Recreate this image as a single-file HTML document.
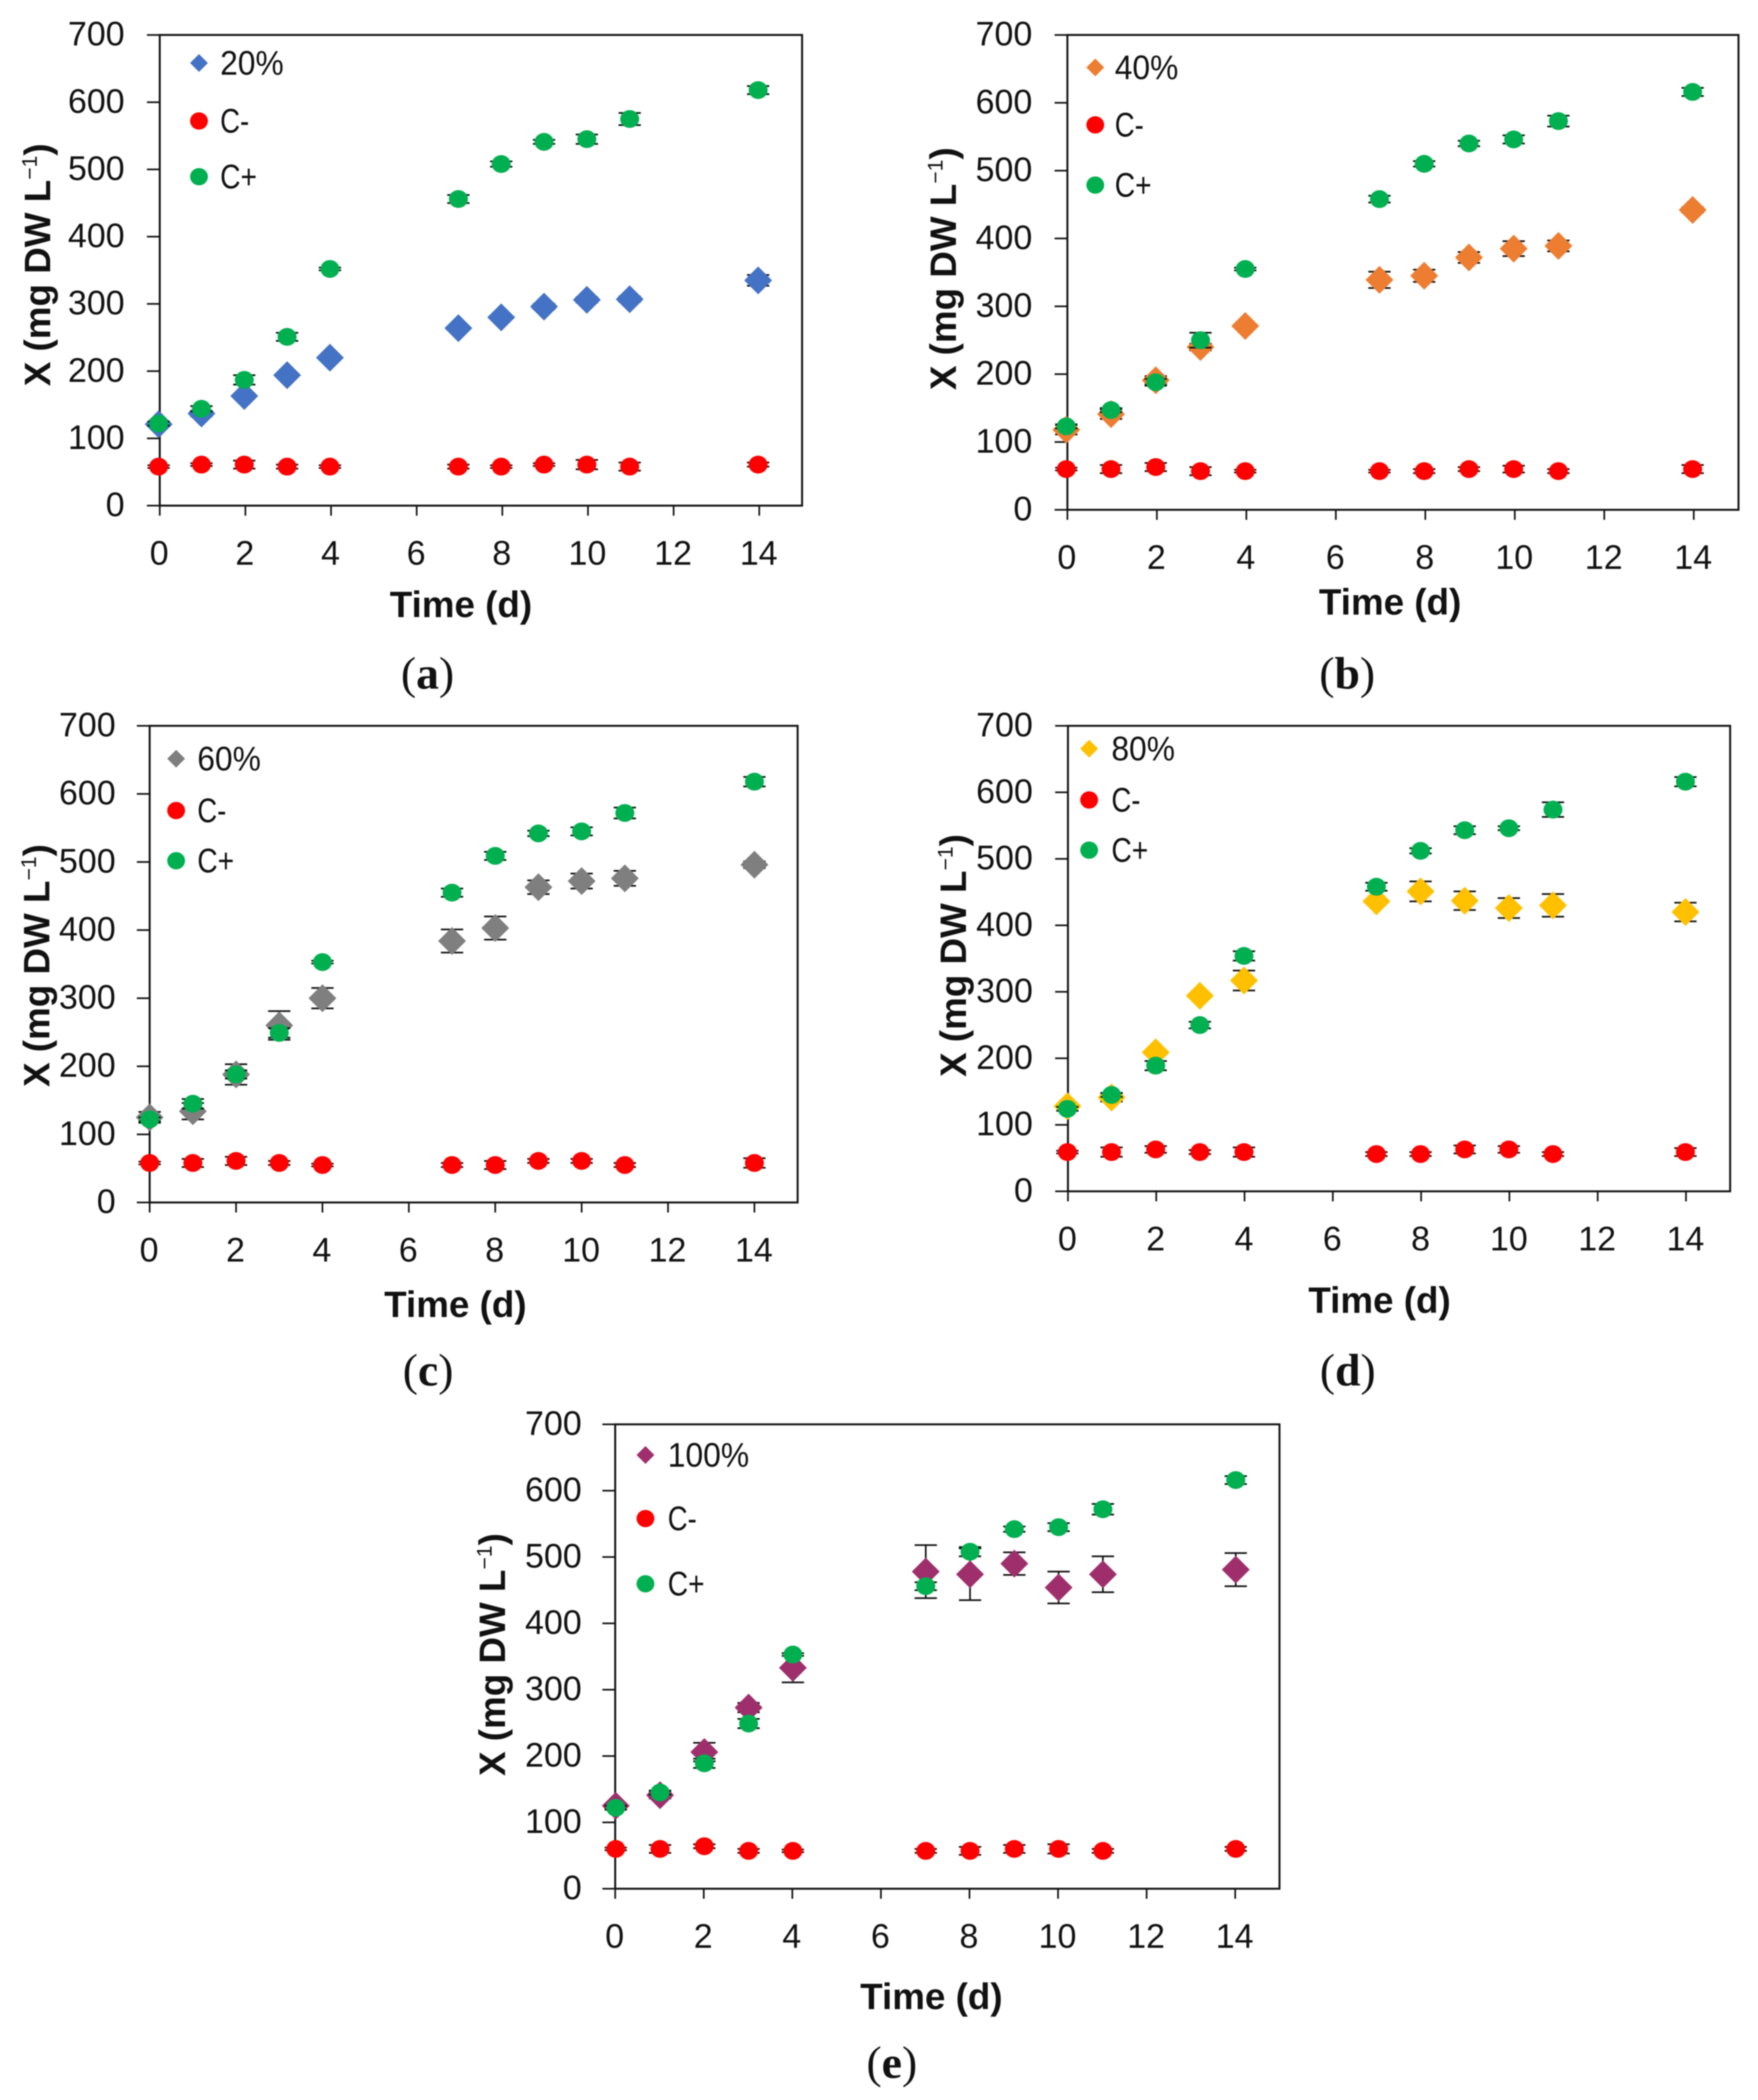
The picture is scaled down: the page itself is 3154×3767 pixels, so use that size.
<!DOCTYPE html>
<html lang="en">
<head>
<meta charset="utf-8">
<title>Biomass concentration over time</title>
<style>
html,body{margin:0;padding:0;background:#fff;}
svg{display:block;filter:blur(1px);}
text{font-family:"Liberation Sans",sans-serif;fill:#111;}
</style>
</head>
<body>
<svg id="figure" xmlns="http://www.w3.org/2000/svg" width="3154" height="3767" viewBox="0 0 3154 3767"></svg>
<script>
var days = [0, 1, 2, 3, 4, 7, 8, 9, 10, 11, 14];
var xTickLabels = [0, 2, 4, 6, 8, 10, 12, 14];
var yTickLabels = [0, 100, 200, 300, 400, 500, 600, 700];

var a20Values = [121, 137, 163, 194, 220, 264, 280, 296, 306, 307, 335];
var a20Errors = [3, 4, 3, 3, 3, 3, 3, 4, 4, 4, 8];
var aNegValues = [58, 61, 61, 58, 58, 58, 58, 61, 61, 58, 61];
var aNegErrors = [2, 2, 6, 3, 2, 3, 2, 2, 7, 6, 3];
var aPosValues = [122, 144, 187, 251, 352, 456, 508, 541, 545, 575, 618];
var aPosErrors = [3, 4, 7, 6, 2, 6, 4, 3, 7, 9, 6];

var b40Values = [118, 141, 191, 240, 271, 339, 345, 372, 385, 389, 442];
var b40Errors = [7, 7, 6, 5, 3, 12, 9, 8, 11, 8, 4];
var bNegValues = [60, 60, 63, 57, 57, 57, 57, 60, 60, 57, 60];
var bNegErrors = [2, 6, 6, 6, 2, 2, 3, 3, 5, 3, 6];
var bPosValues = [123, 147, 188, 250, 355, 458, 510, 540, 546, 573, 616];
var bPosErrors = [3, 3, 5, 11, 2, 5, 4, 4, 6, 8, 6];

var c60Values = [125, 134, 188, 260, 300, 384, 403, 463, 472, 476, 496];
var c60Errors = [8, 12, 15, 21, 15, 17, 17, 10, 11, 11, 5];
var cNegValues = [58, 58, 61, 58, 55, 55, 55, 61, 61, 55, 58];
var cNegErrors = [2, 6, 6, 3, 2, 3, 6, 3, 3, 3, 7];
var cPosValues = [122, 145, 188, 249, 353, 455, 509, 542, 545, 572, 618];
var cPosErrors = [3, 7, 6, 7, 2, 6, 6, 4, 6, 8, 7];

var d80Values = [128, 141, 209, 294, 317, 436, 451, 437, 426, 430, 420];
var d80Errors = [3, 6, 3, 3, 15, 3, 15, 14, 15, 17, 14];
var dNegValues = [59, 59, 63, 59, 59, 56, 56, 63, 63, 56, 59];
var dNegErrors = [2, 7, 5, 3, 7, 3, 3, 6, 5, 3, 6];
var dPosValues = [124, 145, 189, 250, 354, 458, 512, 543, 546, 574, 616];
var dPosErrors = [3, 3, 7, 5, 7, 6, 4, 6, 3, 11, 7];

var e100Values = [125, 141, 206, 273, 333, 478, 474, 490, 454, 474, 481];
var e100Errors = [3, 5, 14, 7, 22, 40, 39, 17, 24, 27, 25];
var eNegValues = [60, 60, 64, 57, 57, 57, 57, 60, 60, 57, 60];
var eNegErrors = [2, 6, 3, 3, 2, 3, 6, 6, 7, 3, 3];
var ePosValues = [122, 145, 189, 249, 353, 456, 508, 542, 545, 572, 616];
var ePosErrors = [3, 3, 7, 7, 2, 6, 7, 4, 6, 8, 6];

var NS = 'http://www.w3.org/2000/svg';
var root = document.getElementById('figure');

function make(tag, parent, attrs) {
  var el = document.createElementNS(NS, tag);
  for (var k in attrs) { el.setAttribute(k, attrs[k]); }
  parent.appendChild(el);
  return el;
}

function drawDiamond(parent, cx, cy, hw, hh, color) {
  return make('polygon', parent, {
    points: (cx - hw) + ',' + cy + ' ' + cx + ',' + (cy - hh) + ' ' + (cx + hw) + ',' + cy + ' ' + cx + ',' + (cy + hh),
    fill: color
  });
}

function drawPanel(p) {
  var g = make('g', root, {});
  
  

  function xPos(d) { return p.L + (p.R - p.L) * d / 15; }
  function yPos(v) { return p.B - (p.B - p.T) * v / 700; }

  var frame = make('rect', g, { x: p.L, y: p.T, width: p.R - p.L, height: p.B - p.T, fill: '#fff', stroke: '#111', 'stroke-width': 3.5 });
  
  

  yTickLabels.forEach(function (v) {
    var y = yPos(v);
    var tick = make('line', g, { x1: p.L - 23, x2: p.L, y1: y, y2: y, stroke: '#111', 'stroke-width': 3 });
    
    
    var lab = make('text', g, { x: p.L - p.labelGap, y: y + 19, 'font-size': 61, 'text-anchor': 'end' });
    lab.textContent = String(v);
    
    
  });

  xTickLabels.forEach(function (v) {
    var x = xPos(v);
    var tick = make('line', g, { x1: x, x2: x, y1: p.B, y2: p.B + 18, stroke: '#111', 'stroke-width': 3 });
    
    
    var lab = make('text', g, { x: x - 1, y: p.B + 106, 'font-size': 61, 'text-anchor': 'middle' });
    lab.textContent = String(v);
    
    
  });

  var groups = [
    { name: 'treatment', values: p.treatment, errors: p.treatmentErr, kind: 'diamond', color: p.color },
    { name: 'control-negative', values: p.neg, errors: p.negErr, kind: 'dot', color: '#fe0000' },
    { name: 'control-positive', values: p.pos, errors: p.posErr, kind: 'dot', color: '#00b050' }
  ];

  groups.forEach(function (s) {
    var sg = make('g', g, {});
    
    
    days.forEach(function (d, i) {
      var cx = xPos(d) + p.dx;
      var top = yPos(s.values[i] + s.errors[i]), bot = yPos(s.values[i] - s.errors[i]);
      var bar = make('path', sg, {
        d: 'M' + cx + ' ' + top + 'V' + bot + 'M' + (cx - 20) + ' ' + top + 'H' + (cx + 20) + 'M' + (cx - 20) + ' ' + bot + 'H' + (cx + 20),
        stroke: '#111', 'stroke-width': 3, fill: 'none'
      });
      
      
    });
    days.forEach(function (d, i) {
      var cx = xPos(d) + p.dx, cy = yPos(s.values[i]);
      var mark;
      if (s.kind === 'diamond') {
        mark = drawDiamond(sg, cx, cy, 25, 25, s.color);
      } else {
        mark = make('ellipse', sg, { cx: cx, cy: cy, rx: 17, ry: 16, fill: s.color });
      }
      
      
    });
  });

  var legend = make('g', g, {});
  
  
  var entries = [
    { label: p.label, width: p.labelWidth, kind: 'diamond', color: p.color },
    { label: 'C-', width: 52, kind: 'dot', color: '#fe0000' },
    { label: 'C+', width: 66, kind: 'dot', color: '#00b050' }
  ];
  entries.forEach(function (e, i) {
    var y = p.legendY[i];
    var m;
    if (e.kind === 'diamond') {
      m = drawDiamond(legend, p.legendX, y, 16, 16, e.color);
    } else {
      m = make('ellipse', legend, { cx: p.legendX, cy: y, rx: 16, ry: 15.5, fill: e.color });
    }
    
    
    var t = make('text', legend, { x: p.legendTextX, y: y + 21, 'font-size': 61, textLength: e.width, lengthAdjust: 'spacingAndGlyphs' });
    t.textContent = e.label;
    
    
  });

  var xt = make('text', g, { x: p.xTitleX, y: p.xTitleY, 'font-size': 66, 'font-weight': 'bold', 'text-anchor': 'middle' });
  xt.textContent = 'Time (d)';
  
  

  var yt = make('text', g, { transform: 'translate(' + p.yTitleX + ',' + p.yTitleY + ') rotate(-90)', 'font-size': 66, 'font-weight': 'bold', 'text-anchor': 'middle' });
  
  
  var t1 = make('tspan', yt, {});
  t1.textContent = 'X (mg DW L';
  var t2 = make('tspan', yt, { 'font-size': 38, 'font-weight': 'normal', dy: -24 });
  t2.textContent = '\u22121';
  var t3 = make('tspan', yt, { dy: 24 });
  t3.textContent = ')';

  var cap = make('text', g, { x: p.capX, y: p.capY, 'font-size': 82, 'text-anchor': 'middle', style: 'font-family:"Liberation Serif",serif' });
  
  
  var c1 = make('tspan', cap, {});
  c1.textContent = '(';
  var c2 = make('tspan', cap, { 'font-weight': 'bold' });
  c2.textContent = p.id;
  var c3 = make('tspan', cap, {});
  c3.textContent = ')';
}

drawPanel({ id: 'a', L: 286.6, R: 1439, T: 62.7, B: 907, dx: -2, labelGap: 63, label: '20%', labelWidth: 114, color: '#4472c4',
  treatment: a20Values, treatmentErr: a20Errors, neg: aNegValues, negErr: aNegErrors, pos: aPosValues, posErr: aPosErrors,
  legendX: 357, legendTextX: 395, legendY: [113, 217, 317],
  xTitleX: 827, xTitleY: 1107, yTitleX: 90, yTitleY: 475, capX: 767, capY: 1235 });

drawPanel({ id: 'b', L: 1915, R: 3119, T: 62.7, B: 914.5, dx: -2, labelGap: 63, label: '40%', labelWidth: 114, color: '#ed7d31',
  treatment: b40Values, treatmentErr: b40Errors, neg: bNegValues, negErr: bNegErrors, pos: bPosValues, posErr: bPosErrors,
  legendX: 1965, legendTextX: 2000, legendY: [121, 224, 332],
  xTitleX: 2494, xTitleY: 1102.5, yTitleX: 1715, yTitleY: 482, capX: 2417, capY: 1235 });

drawPanel({ id: 'c', L: 268.5, R: 1431, T: 1302, B: 2157, dx: 0, labelGap: 61, label: '60%', labelWidth: 114, color: '#7f7f7f',
  treatment: c60Values, treatmentErr: c60Errors, neg: cNegValues, negErr: cNegErrors, pos: cPosValues, posErr: cPosErrors,
  legendX: 316, legendTextX: 354, legendY: [1361, 1454, 1544],
  xTitleX: 817, xTitleY: 2362.6, yTitleX: 88.5, yTitleY: 1732, capX: 768, capY: 2485 });

drawPanel({ id: 'd', L: 1916, R: 3104, T: 1302, B: 2137, dx: -1, labelGap: 63, label: '80%', labelWidth: 114, color: '#ffc000',
  treatment: d80Values, treatmentErr: d80Errors, neg: dNegValues, negErr: dNegErrors, pos: dPosValues, posErr: dPosErrors,
  legendX: 1954, legendTextX: 1994, legendY: [1343, 1435, 1525],
  xTitleX: 2475, xTitleY: 2355, yTitleX: 1733, yTitleY: 1714, capX: 2418, capY: 2485 });

drawPanel({ id: 'e', L: 1103.7, R: 2295.5, T: 2555, B: 3388, dx: 1, labelGap: 60, label: '100%', labelWidth: 146, color: '#9e2f6c',
  treatment: e100Values, treatmentErr: e100Errors, neg: eNegValues, negErr: eNegErrors, pos: ePosValues, posErr: ePosErrors,
  legendX: 1158, legendTextX: 1198, legendY: [2610, 2724, 2841],
  xTitleX: 1671, xTitleY: 3604, yTitleX: 906, yTitleY: 2968, capX: 1600, capY: 3727 });
</script>
</body>
</html>
